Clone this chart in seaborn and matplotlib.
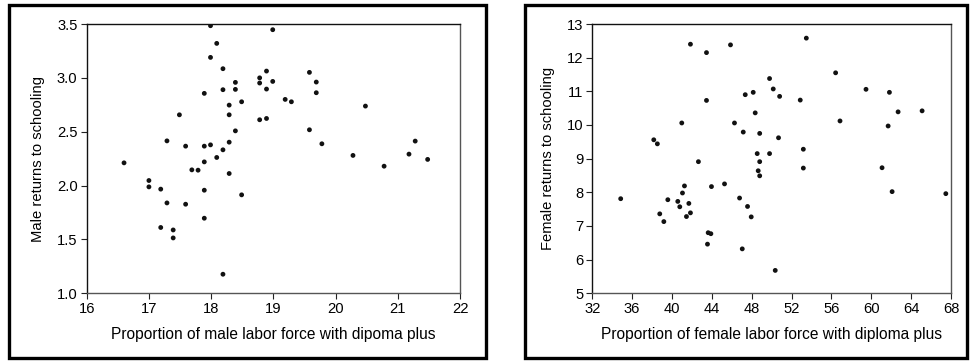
import matplotlib
matplotlib.use("Agg")
import matplotlib.pyplot as plt
import seaborn as sns
import pandas as pd
from matplotlib.patches import Rectangle
from matplotlib.ticker import FormatStrFormatter

# Male panel data
male_diploma = [17.99, 18.99, 18.09, 17.99, 18.19, 18.78, 18.89, 18.39, 18.78, 18.99,
                18.19, 18.39, 18.89, 17.89, 18.49, 18.29, 17.49, 18.29, 18.78, 18.89,
                18.39, 17.29, 18.29, 17.59, 17.89, 17.99, 18.19, 18.09,
                19.58, 19.69, 19.69, 19.19, 19.29, 19.58, 19.78, 20.48, 20.28, 20.78,
                21.18, 21.28, 21.48,
                16.60, 17.00, 17.00, 17.19, 17.29, 17.59, 17.19, 17.39, 17.39, 17.69,
                17.79, 17.89, 18.29, 17.89, 18.49, 17.89, 18.19]
male_returns = [3.484, 3.447, 3.32, 3.19, 3.085, 3.00, 3.063, 2.958, 2.952, 2.967,
                2.89, 2.893, 2.896, 2.856, 2.778, 2.747, 2.657, 2.657, 2.611, 2.623,
                2.508, 2.415, 2.403, 2.366, 2.366, 2.378, 2.332, 2.261,
                3.051, 2.961, 2.862, 2.80, 2.778, 2.518, 2.388, 2.738, 2.28, 2.18,
                2.292, 2.413, 2.243,
                2.211, 2.047, 1.988, 1.967, 1.839, 1.827, 1.611, 1.588, 1.514, 2.146,
                2.143, 2.22, 2.112, 1.957, 1.914, 1.697, 1.177]

# Female panel data
female_diploma = [41.85, 43.46, 45.87, 43.46, 40.98, 38.17, 38.53, 46.27, 47.15, 47.35,
                  48.15, 48.35, 48.80, 48.55, 34.85, 38.77, 39.18, 39.58, 40.58, 40.78,
                  41.05, 41.25, 41.69, 41.45, 41.85, 42.65, 43.96, 43.63, 43.90, 43.56,
                  45.27, 46.78, 47.58, 47.95, 47.05, 48.80, 48.65, 48.80, 53.48, 56.42,
                  49.79, 50.16, 50.80, 52.87, 59.47, 61.82, 62.69, 65.10, 56.86, 61.69,
                  50.69, 49.79, 53.18, 53.18, 61.08, 62.09, 67.48, 50.36]
female_returns = [12.40, 12.15, 12.38, 10.73, 10.06, 9.56, 9.44, 10.06, 9.79, 10.90,
                  10.97, 10.36, 9.75, 9.15, 7.81, 7.36, 7.13, 7.78, 7.73, 7.57,
                  7.98, 8.19, 7.67, 7.28, 7.39, 8.91, 8.17, 6.80, 6.77, 6.46,
                  8.25, 7.83, 7.58, 7.27, 6.32, 8.91, 8.64, 8.49, 12.58, 11.55,
                  11.38, 11.07, 10.85, 10.74, 11.06, 10.97, 10.39, 10.42, 10.12, 9.97,
                  9.62, 9.15, 9.28, 8.72, 8.73, 8.02, 7.96, 5.68]

male_xticks = [16, 17, 18, 19, 20, 21, 22]
male_yticks = [1.0, 1.5, 2.0, 2.5, 3.0, 3.5]
female_xticks = [32, 36, 40, 44, 48, 52, 56, 60, 64, 68]
female_yticks = [5, 6, 7, 8, 9, 10, 11, 12, 13]

sns.set_theme(style="white")
plt.rcParams['font.family'] = ['Liberation Sans', 'DejaVu Sans']

W, H = 971, 362
fig = plt.figure(figsize=(W / 100, H / 100), dpi=100)

def px_axes(x0, y0, x1, y1):
    return fig.add_axes([x0 / W, 1 - y1 / H, (x1 - x0) / W, (y1 - y0) / H])

ax1 = px_axes(86.7, 24, 460, 293.3)
ax2 = px_axes(592.3, 24, 951, 293.3)

df_m = pd.DataFrame({"x": male_diploma, "y": male_returns})
df_f = pd.DataFrame({"x": female_diploma, "y": female_returns})

for ax, df, xt, yt, xl, yl, fmt, ylpad in [
    (ax1, df_m, male_xticks, male_yticks,
     "Proportion of male labor force with dipoma plus", "Male returns to schooling", "%.1f", 8.5),
    (ax2, df_f, female_xticks, female_yticks,
     "Proportion of female labor force with diploma plus", "Female returns to schooling", "%d", 8.0),
]:
    sns.scatterplot(data=df, x="x", y="y", ax=ax, color="#111111", s=12,
                    edgecolor="none", linewidth=0)
    ax.set_xlim(xt[0], xt[-1])
    ax.set_ylim(yt[0], yt[-1])
    ax.set_xticks(xt)
    ax.set_yticks(yt)
    ax.yaxis.set_major_formatter(FormatStrFormatter(fmt))
    ax.tick_params(axis="both", direction="out", length=4.3, width=0.8,
                   colors="#222222", labelsize=10.6, pad=2.3,
                   bottom=True, left=True)
    for lab in ax.get_xticklabels() + ax.get_yticklabels():
        lab.set_color("black")
    ax.set_xlabel(xl, fontsize=11.2, labelpad=7.5, color="black")
    ax.set_ylabel(yl, fontsize=10.6, labelpad=ylpad, color="black")
    for side in ["top", "left"]:
        ax.spines[side].set_color("#111111")
        ax.spines[side].set_linewidth(1.0)
    for side in ["bottom", "right"]:
        ax.spines[side].set_color("#555555")
        ax.spines[side].set_linewidth(1.0)
    ax.grid(False)

# outer frames around each panel
for (x0, y0, x1, y1) in [(9, 5, 486, 358), (525, 5, 967, 358)]:
    fig.add_artist(Rectangle((x0 / W, 1 - y1 / H), (x1 - x0) / W, (y1 - y0) / H,
                             transform=fig.transFigure, fill=False,
                             edgecolor="black", linewidth=2.4))

fig.savefig("out.png", dpi=100)
